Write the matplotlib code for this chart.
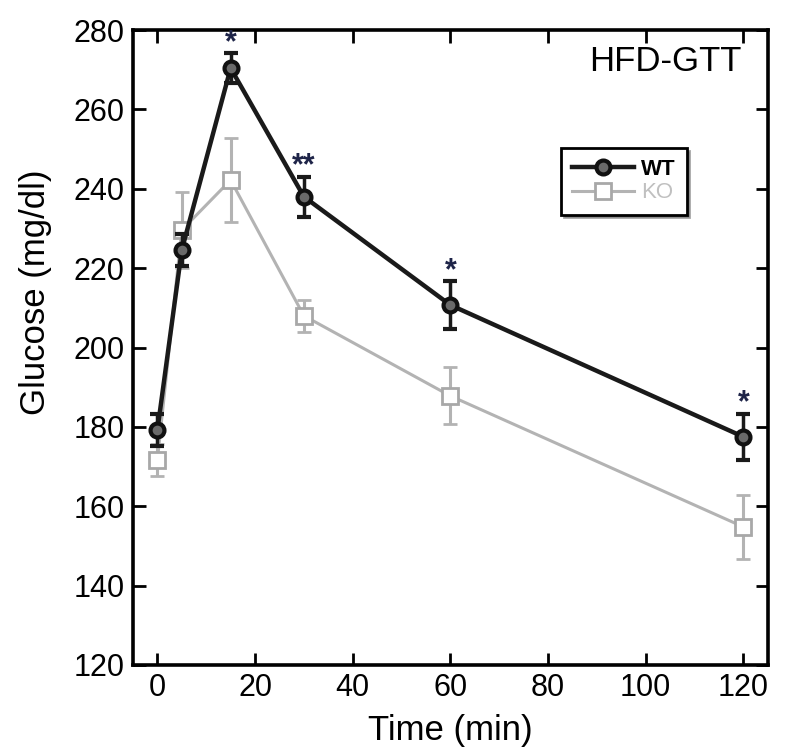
import matplotlib.pyplot as plt
from matplotlib.lines import Line2D
import numpy as np

plt.rcParams['font.family'] = ['Liberation Sans', 'DejaVu Sans']

# glucose tolerance test, high fat diet
time = [0, 5, 15, 30, 60, 120]
wt_mean = [179.2, 224.6, 270.4, 238.0, 210.7, 177.5]
wt_sem = [4.0, 4.0, 3.8, 5.0, 6.0, 5.8]
ko_mean = [171.7, 229.6, 242.2, 208.0, 187.8, 154.8]
ko_sem = [4.0, 9.6, 10.6, 4.0, 7.2, 8.0]
stars = ['', '', '*', '**', '*', '*']

fig = plt.figure(figsize=(7.85, 7.47), dpi=100)
ax = fig.add_axes([0.1694, 0.1098, 0.8086, 0.8500])

ko_style = dict(color='#b3b3b3', lw=2.2, marker='s', ms=11, mfc='white',
                mec='#a8a8a8', mew=2)
wt_style = dict(color='#1a1a1a', lw=3.2, marker='o', ms=10, mfc='#6a6a6a',
                mec='#111111', mew=3)

ax.errorbar(time, ko_mean, yerr=ko_sem, elinewidth=2.2, capsize=5,
            capthick=2, zorder=2, **ko_style)
ax.errorbar(time, wt_mean, yerr=wt_sem, elinewidth=2.5, capsize=5,
            capthick=2.5, zorder=3, **wt_style)

# significance marks above the WT error bars
for t, m, s, st in zip(time, wt_mean, wt_sem, stars):
    if st:
        ax.text(t, m + s - 1.2, st, ha='center', va='bottom', fontsize=22,
                fontweight='bold', color='#1e2448', zorder=4)

ax.set_xlim(-5, 125)
ax.set_ylim(120, 280)
ax.set_xticks(np.arange(0, 121, 20))
ax.set_yticks(np.arange(120, 281, 20))
ax.tick_params(direction='in', length=9, width=2, top=True, right=True,
               labelsize=22, pad=6)
for sp in ax.spines.values():
    sp.set_linewidth(2.6)

ax.set_xlabel('Time (min)', fontsize=25, labelpad=8)
ax.set_ylabel('Glucose (mg/dl)', fontsize=25)
ax.yaxis.set_label_coords(-0.128, 0.587)

ax.text(0.959, 0.95, 'HFD-GTT', transform=ax.transAxes, ha='right',
        va='center', fontsize=25)

handles = [Line2D([], [], **wt_style), Line2D([], [], **ko_style)]
leg = ax.legend(handles, ['WT', 'KO'], loc='upper left',
                bbox_to_anchor=(0.674, 0.814), borderaxespad=0,
                frameon=True, fancybox=False, shadow=True, edgecolor='black',
                fontsize=16, handlelength=2.8, handletextpad=0.3,
                borderpad=0.5, labelspacing=0.1)
leg.get_frame().set_linewidth(2)
leg.get_texts()[0].set_fontweight('bold')
leg.get_texts()[1].set_color('#c0c0c0')

fig.savefig('out.png', dpi=100)
